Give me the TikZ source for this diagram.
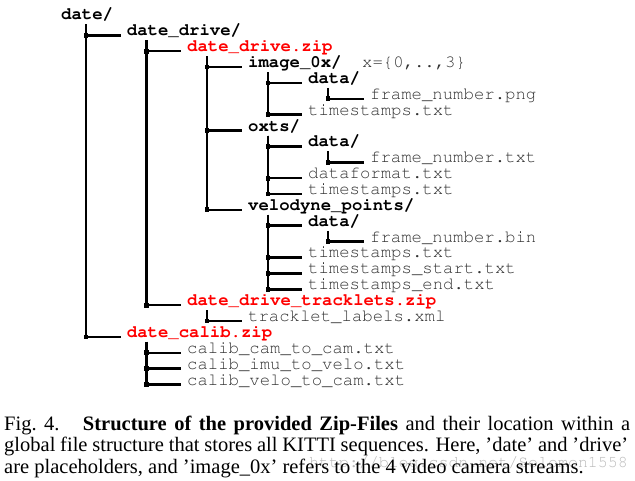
\documentclass[tikz,border=0pt]{standalone}
\usepackage[T1]{fontenc}
\usepackage{fontspec}
\setmainfont{Liberation Serif}
\newcommand{\treefont}{\fontencoding{T1}\fontfamily{pcr}\fontsize{17.3}{18}\selectfont}
\definecolor{zipred}{RGB}{255,0,0}
\definecolor{filegray}{RGB}{50,50,50}
\definecolor{markgray}{RGB}{185,185,185}

\begin{document}
\begin{tikzpicture}[x=1pt, y=-1pt,
    entry/.style={anchor=base west, inner sep=0pt, font=\treefont},
    folder/.style={entry, font=\treefont\bfseries},
    archive/.style={folder, zipred},
    leaf/.style={entry, filegray},
    branch/.style={line width=2.6pt},
    knot/.style={fill, inner sep=0pt, minimum size=4.8pt},
    caption/.style={anchor=base west, inner sep=0pt, font=\fontsize{20.5}{21.7}\selectfont}]

    \useasboundingbox (0,0) rectangle (635,481);

    % folders and files
    \node[folder] (date) at (61,20) {date/};
    \node[folder] (drive) at (126.7,35.9) {date\_drive/};
    \node[archive] (drivezip) at (187,51.7) {date\_drive.zip};
    \node[folder] (image) at (248,67.6) {image\_0x/};
    \node[leaf] (imagex) at (362,67.6) {x=\{0,..,3\}};
    \node[folder] (imagedata) at (308,83.5) {data/};
    \node[leaf] (imageframe) at (370,99.4) {frame\_number.png};
    \node[leaf] (imagestamps) at (308,115.2) {timestamps.txt};
    \node[folder] (oxts) at (248,131.1) {oxts/};
    \node[folder] (oxtsdata) at (308,147) {data/};
    \node[leaf] (oxtsframe) at (370,162.8) {frame\_number.txt};
    \node[leaf] (oxtsformat) at (308,178.7) {dataformat.txt};
    \node[leaf] (oxtsstamps) at (308,194.6) {timestamps.txt};
    \node[folder] (velo) at (248,210.4) {velodyne\_points/};
    \node[folder] (velodata) at (308,226.3) {data/};
    \node[leaf] (veloframe) at (370,242.2) {frame\_number.bin};
    \node[leaf] (velostamps) at (308,258) {timestamps.txt};
    \node[leaf] (velostart) at (308,273.9) {timestamps\_start.txt};
    \node[leaf] (veloend) at (308,289.8) {timestamps\_end.txt};
    \node[archive] (trackzip) at (187,305.7) {date\_drive\_tracklets.zip};
    \node[leaf] (tracklabels) at (248,321.5) {tracklet\_labels.xml};
    \node[archive] (calibzip) at (126.7,337.4) {date\_calib.zip};
    \node[leaf] (calibcam) at (187,353.3) {calib\_cam\_to\_cam.txt};
    \node[leaf] (calibimu) at (187,369.1) {calib\_imu\_to\_velo.txt};
    \node[leaf] (calibvelo) at (187,385) {calib\_velo\_to\_cam.txt};

    % tree lines
    \draw[branch] ([shift={(25pt,-4.5pt)}]date.base west) |- node[knot]{} ([shift={(-6pt,0.5pt)}]drive.base west);
    \draw[branch] ([shift={(25pt,-4.5pt)}]date.base west) |- node[knot]{} ([shift={(-6pt,0.5pt)}]calibzip.base west);

    \draw[branch] ([shift={(20pt,-4.5pt)}]drive.base west) |- node[knot]{} ([shift={(-6pt,0.5pt)}]drivezip.base west);
    \draw[branch] ([shift={(20pt,-4.5pt)}]drive.base west) |- node[knot]{} ([shift={(-6pt,0.5pt)}]trackzip.base west);

    \draw[branch] ([shift={(20pt,-4.5pt)}]drivezip.base west) |- node[knot]{} ([shift={(-6pt,0.5pt)}]image.base west);
    \draw[branch] ([shift={(20pt,-4.5pt)}]drivezip.base west) |- node[knot]{} ([shift={(-6pt,0.5pt)}]oxts.base west);
    \draw[branch] ([shift={(20pt,-4.5pt)}]drivezip.base west) |- node[knot]{} ([shift={(-6pt,0.5pt)}]velo.base west);

    \draw[branch] ([shift={(20pt,-4.5pt)}]image.base west) |- node[knot]{} ([shift={(-6pt,0.5pt)}]imagedata.base west);
    \draw[branch] ([shift={(20pt,-4.5pt)}]image.base west) |- node[knot]{} ([shift={(-6pt,0.5pt)}]imagestamps.base west);
    \draw[branch] ([shift={(20pt,-4.5pt)}]imagedata.base west) |- node[knot]{} ([shift={(-6pt,0.5pt)}]imageframe.base west);

    \draw[branch] ([shift={(20pt,-4.5pt)}]oxts.base west) |- node[knot]{} ([shift={(-6pt,0.5pt)}]oxtsdata.base west);
    \draw[branch] ([shift={(20pt,-4.5pt)}]oxts.base west) |- node[knot]{} ([shift={(-6pt,0.5pt)}]oxtsformat.base west);
    \draw[branch] ([shift={(20pt,-4.5pt)}]oxts.base west) |- node[knot]{} ([shift={(-6pt,0.5pt)}]oxtsstamps.base west);
    \draw[branch] ([shift={(20pt,-4.5pt)}]oxtsdata.base west) |- node[knot]{} ([shift={(-6pt,0.5pt)}]oxtsframe.base west);

    \draw[branch] ([shift={(20pt,-4.5pt)}]velo.base west) |- node[knot]{} ([shift={(-6pt,0.5pt)}]velodata.base west);
    \draw[branch] ([shift={(20pt,-4.5pt)}]velo.base west) |- node[knot]{} ([shift={(-6pt,0.5pt)}]velostamps.base west);
    \draw[branch] ([shift={(20pt,-4.5pt)}]velo.base west) |- node[knot]{} ([shift={(-6pt,0.5pt)}]velostart.base west);
    \draw[branch] ([shift={(20pt,-4.5pt)}]velo.base west) |- node[knot]{} ([shift={(-6pt,0.5pt)}]veloend.base west);
    \draw[branch] ([shift={(20pt,-4.5pt)}]velodata.base west) |- node[knot]{} ([shift={(-6pt,0.5pt)}]veloframe.base west);

    \draw[branch] ([shift={(20pt,-4.5pt)}]trackzip.base west) |- node[knot]{} ([shift={(-6pt,0.5pt)}]tracklabels.base west);

    \draw[branch] ([shift={(20pt,-4.5pt)}]calibzip.base west) |- node[knot]{} ([shift={(-6pt,0.5pt)}]calibcam.base west);
    \draw[branch] ([shift={(20pt,-4.5pt)}]calibzip.base west) |- node[knot]{} ([shift={(-6pt,0.5pt)}]calibimu.base west);
    \draw[branch] ([shift={(20pt,-4.5pt)}]calibzip.base west) |- node[knot]{} ([shift={(-6pt,0.5pt)}]calibvelo.base west);

    % caption
    \node[anchor=base east, inner sep=0pt, markgray, font=\fontencoding{T1}\fontfamily{pcr}\fontsize{16.6}{17}\selectfont] (mark) at (628,467) {http://blog.csdn.net/Solomon1558};
    \node[caption] (capone) at (4,430) {\makebox[626pt][s]{Fig.~4.\hspace{16pt plus 8pt}\textbf{Structure of the provided Zip-Files} and their location within a}};
    \node[caption] (captwo) at (4,451.7) {\makebox[624pt][s]{global file structure that stores all KITTI sequences. Here, 'date' and 'drive'}};
    \node[caption] (capthree) at (4,473.3) {are placeholders, and 'image\_0x' refers to the 4 video camera streams.};

\end{tikzpicture}
\end{document}
